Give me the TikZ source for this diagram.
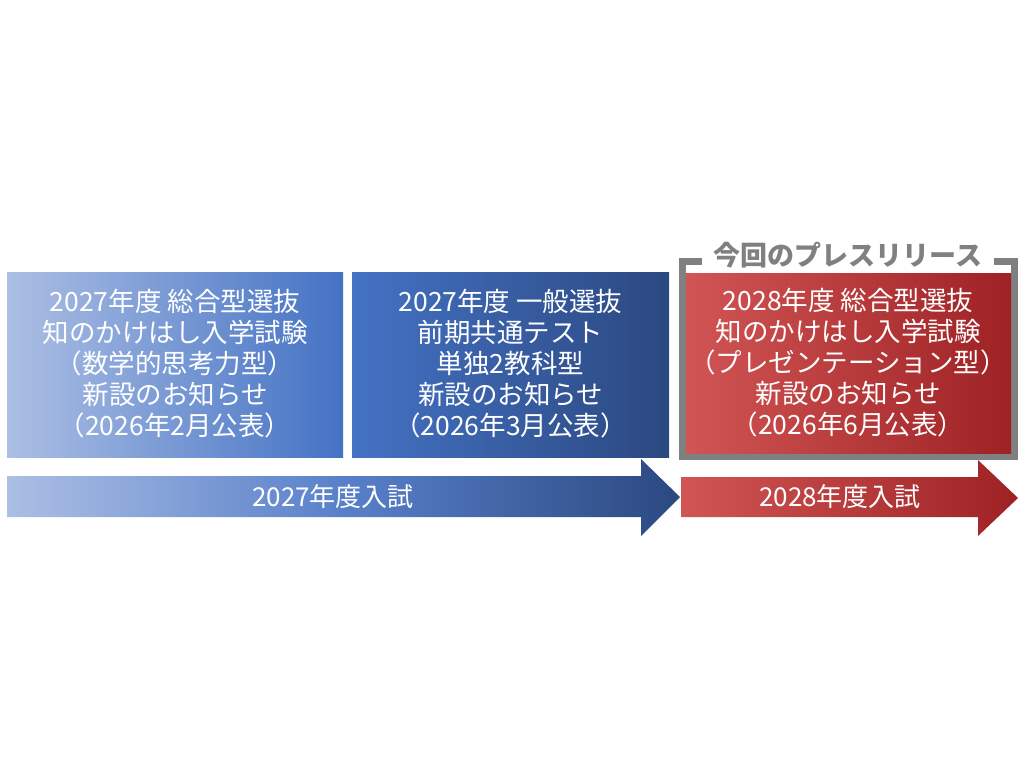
\documentclass[tikz,border=0pt]{standalone}
\usepackage{fontspec}
\setmainfont{Noto Sans CJK JP}
\definecolor{bOneL}{RGB}{172,191,228}
\definecolor{bOneR}{RGB}{68,114,196}
\definecolor{bTwoL}{RGB}{68,114,196}
\definecolor{bTwoR}{RGB}{43,72,128}
\definecolor{aMid}{RGB}{88,128,202}
\definecolor{rL}{RGB}{210,85,85}
\definecolor{rR}{RGB}{158,34,36}
\definecolor{frameGray}{RGB}{128,128,128}
\begin{document}
\begin{tikzpicture}[x=1pt,y=-1pt]
\tikzset{
  boxtext/.style={text=white, align=center, font=\fontsize{26.5}{31}\selectfont, inner sep=0pt},
  arrowtext/.style={text=white, font=\fontsize{26}{30}\selectfont, inner sep=0pt},
}
\useasboundingbox[fill=white] (0,0) rectangle (1024,768);
% box 1
\shade[left color=bOneL, right color=bOneR] (7,272) rectangle (343,457);
\node[boxtext] (t1) at (175,364) {2027年度 総合型選抜\\知のかけはし入学試験\\（数学的思考力型）\\新設のお知らせ\\（2026年2月公表）};
% box 2
\shade[left color=bTwoL, right color=bTwoR] (352,272) rectangle (669,457);
\node[boxtext] (t2) at (510.5,364) {2027年度 一般選抜\\前期共通テスト\\単独2教科型\\新設のお知らせ\\（2026年3月公表）};
% red box with bracket
\draw[line width=7pt, frameGray, line cap=butt, line join=miter]
  (702,261.5) -- (682.5,261.5) -- (682.5,456.5) -- (1014.5,456.5) -- (1014.5,261.5) -- (994,261.5);
\node[text=frameGray, font=\fontsize{27}{30}\selectfont\bfseries, inner sep=0pt] (title) at (848,255) {今回のプレスリリース};
\shade[left color=rL, right color=rR] (686,273) rectangle (1011,453);
\node[boxtext] (t3) at (848,363) {2028年度 総合型選抜\\知のかけはし入学試験\\（プレゼンテーション型）\\新設のお知らせ\\（2026年6月公表）};
% arrows
\shade[left color=bOneL, right color=bTwoR, middle color=aMid]
  (7,476) -- (641,476) -- (641,459) -- (680,497) -- (641,536) -- (641,517) -- (7,517) -- cycle;
\node[arrowtext] (a1) at (333,496.5) {2027年度入試};
\shade[left color=rL, right color=rR]
  (681,477) -- (978,477) -- (978,460) -- (1018,498) -- (978,536) -- (978,517) -- (681,517) -- cycle;
\node[arrowtext] (a2) at (840,497) {2028年度入試};
\end{tikzpicture}
\end{document}
